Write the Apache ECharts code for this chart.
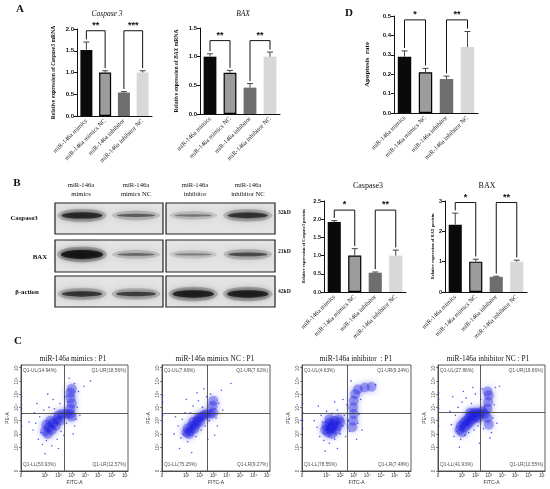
<!DOCTYPE html>
<html>
<head>
<meta charset="utf-8">
<title>miR-146a apoptosis</title>
<script src="https://cdn.jsdelivr.net/npm/echarts@6/dist/echarts.min.js"></script>
</head>
<body style="margin:0;background:#fff;">
<div id="main" style="width:550px;height:489px;"></div>
<script>
// groups and bar colours
var groups = ['miR-146a mimics', 'miR-146a mimics NC', 'miR-146a inhibitor', 'miR-146a inhibitor NC'];
var barColors = ['#0a0a0a', '#9c9c9c', '#6e6e6e', '#d8d8d8'];

// A: mRNA
var caspMrna = [1.52, 1.0, 0.54, 1.0];
var caspMrnaSd = [0.18, 0.04, 0.02, 0.04];
var baxMrna = [1.0, 0.72, 0.46, 1.0];
var baxMrnaSd = [0.05, 0.04, 0.07, 0.08];
// D: apoptosis rate
var apoptosis = [0.29, 0.21, 0.175, 0.34];
var apoptosisSd = [0.03, 0.02, 0.015, 0.08];
// B: protein quantification
var caspProt = [1.92, 1.0, 0.53, 1.0];
var caspProtSd = [0.04, 0.19, 0.02, 0.15];
var baxProt = [2.22, 1.0, 0.5, 1.0];
var baxProtSd = [0.38, 0.08, 0.02, 0.05];

// significance brackets: [bar from, bar to, height, stars]
var sigCaspMrna = [[0, 1, 1.96, '**'], [2, 3, 1.96, '***']];
var sigBaxMrna = [[0, 1, 1.28, '**'], [2, 3, 1.28, '**']];
var sigApoptosis = [[0, 1, 0.48, '*'], [2, 3, 0.48, '**']];
var sigCaspProt = [[0, 1, 2.25, '*'], [2, 3, 2.25, '**']];
var sigBaxProt = [[0, 1, 2.95, '*'], [2, 3, 2.95, '**']];

// western blot band intensity (lanes 1-4)
var blotNames = ['Caspase3', 'BAX', 'β-action'];
var blotKd = ['32kD', '21kD', '42kD'];
var bandCasp = [0.85, 0.55, 0.42, 0.8];
var bandBax = [1.0, 0.48, 0.35, 0.65];
var bandActin = [0.78, 0.72, 0.92, 0.92];

// flow cytometry, log10 units (0 drawn at -0.8)
var flowTitles = ['miR-146a mimics : P1', 'miR-146a mimics NC : P1', 'miR-146a inhibitor  : P1', 'miR-146a inhibitor NC : P1'];
var quadUL = ['14.94', '7.66', '4.63', '27.86'];
var quadUR = ['18.56', '7.62', '9.34', '19.66'];
var quadLL = ['53.93', '75.25', '78.55', '41.93'];
var quadLR = ['12.57', '9.27', '7.48', '10.55'];
var gateX = [2.4, 2.56, 2.5, 2.33];
var gateY = [3.55, 3.55, 3.55, 3.6];

var flowCore1 = [[1.0,2.2],[1.2,2.0],[1.3,2.5],[1.5,2.3],[1.6,2.8],[1.8,2.6],[1.9,3.1],[2.1,3.0],[1.1,2.7],[1.4,3.0],[2.0,3.4],[2.3,3.5],[2.6,3.5],[2.9,3.5],[2.9,3.9],[3.0,4.3],[2.9,4.7],[3.0,3.3],[2.9,5.1],[3.0,5.4]];
var flowDots1 = [[0.3,2.8],[0.5,1.6],[0.6,3.3],[0.7,2.1],[0.8,1.2],[0.9,3.8],[1.1,1.5],[1.3,4.0],[1.5,1.1],[1.7,3.9],[1.9,1.6],[2.2,2.2],[2.4,1.9],[2.6,2.8],[2.7,4.4],[3.2,2.6],[3.3,3.1],[3.4,4.0],[3.5,5.2],[3.2,5.8],[3.9,5.6],[4.4,6.0],[2.5,4.8],[2.1,4.3],[1.6,4.6],[-0.75,3.5],[-0.75,4.2],[-0.75,4.8],[-0.75,3.9],[-0.75,2.6],[0.1,2.3],[0.4,4.3],[1.0,0.5],[2.0,0.9],[3.1,2.0],[3.6,3.4],[2.8,6.2],[0.2,3.6],[-0.2,2.9],[1.2,5.0]];
var flowCore2 = [[1.0,2.1],[1.1,2.4],[1.3,2.2],[1.4,2.6],[1.5,2.9],[1.6,2.4],[1.7,2.7],[1.8,3.0],[1.9,3.2],[2.1,3.3],[2.3,3.4],[2.5,3.5],[1.2,2.0],[2.0,2.9],[2.8,3.5],[3.0,3.6],[2.95,4.1],[3.0,4.5]];
var flowDots2 = [[0.4,2.6],[0.6,1.7],[0.7,3.1],[0.8,2.0],[0.9,3.6],[1.1,1.4],[1.3,3.6],[1.5,4.1],[1.7,1.8],[1.9,4.5],[2.1,2.3],[2.2,4.0],[2.4,2.6],[2.5,4.8],[2.7,3.0],[2.8,5.0],[3.2,3.2],[3.3,2.6],[3.4,4.3],[3.6,5.3],[4.3,5.8],[1.0,4.6],[1.8,5.1],[2.3,5.4],[-0.75,3.4],[-0.75,4.4],[-0.75,2.9],[-0.75,4.9],[0.2,3.3],[0.5,0.9],[1.4,0.6],[2.6,1.6],[3.1,1.9],[0.1,2.0],[3.7,3.8]];
var flowCore3 = [[0.9,2.3],[1.0,2.6],[1.1,2.1],[1.2,2.8],[1.3,2.4],[1.4,2.0],[1.5,2.7],[1.6,3.0],[1.7,2.3],[1.8,2.6],[1.9,3.1],[1.2,3.1],[2.0,2.9],[1.4,2.5],[2.9,2.5],[2.95,3.0],[3.0,3.5],[2.95,4.0],[3.0,4.5],[3.1,5.0],[3.3,5.35],[3.8,5.5],[4.3,5.55]];
var flowDots3 = [[0.3,2.5],[0.5,1.8],[0.6,3.4],[0.7,2.9],[0.8,1.5],[1.0,3.7],[1.2,1.3],[1.4,3.5],[1.6,1.6],[1.8,3.8],[2.0,2.0],[2.2,2.6],[2.3,3.4],[2.4,1.8],[2.6,3.0],[2.5,4.2],[2.7,2.2],[3.3,2.8],[3.4,3.5],[3.5,4.6],[4.6,5.7],[2.2,4.6],[1.6,4.4],[-0.75,3.0],[-0.75,3.6],[-0.75,4.3],[-0.75,2.4],[0.1,3.0],[0.9,0.7],[1.8,0.9],[3.2,1.6],[2.8,6.0],[0.4,4.1],[3.6,2.3]];
var flowCore4 = [[0.8,2.3],[0.9,2.6],[1.0,2.1],[1.1,2.8],[1.2,2.5],[1.3,3.0],[1.4,2.7],[1.5,3.2],[1.6,2.9],[1.7,3.4],[1.8,3.1],[1.9,3.6],[2.0,3.3],[2.1,3.6],[2.3,3.5],[2.5,3.7],[2.7,3.5],[2.9,3.2],[2.9,3.9],[3.0,2.7],[2.95,4.4],[3.0,4.9],[2.9,5.2],[2.2,3.2],[1.6,3.6]];
var flowDots4 = [[0.2,2.7],[0.4,1.8],[0.5,3.4],[0.6,2.2],[0.7,4.0],[0.9,1.6],[1.0,4.4],[1.2,1.9],[1.3,4.7],[1.5,2.1],[1.7,4.3],[1.9,2.3],[2.0,5.0],[2.2,2.6],[2.4,4.6],[2.5,5.4],[2.6,2.4],[2.7,4.1],[3.2,2.1],[3.3,3.2],[3.4,4.2],[3.5,5.5],[3.8,5.6],[1.1,5.2],[1.8,5.5],[-0.75,3.2],[-0.75,3.9],[-0.75,4.6],[-0.75,2.6],[-0.75,5.1],[0.1,3.7],[0.3,4.8],[0.8,1.0],[2.3,1.3],[3.1,1.7],[3.6,2.8]];

var decadeTicks = [-0.8, 1, 2, 3, 4, 5, 6, 7];
var supDigits = ['⁰','¹','²','³','⁴','⁵','⁶','⁷'];

var serif = 'Liberation Serif';
var sans = 'Liberation Sans';
var grids = [], xAxes = [], yAxes = [], series = [], graphics = [];

function txt(x, y, s, font, align, valign) {
  graphics.push({type: 'text', x: x, y: y, silent: true,
    style: {text: s, font: font, fill: '#111', textAlign: align || 'center', align: align || 'center',
      textVerticalAlign: valign || 'middle', verticalAlign: valign || 'middle'}});
}

function barPanel(rect, vals, sd, sig, yMax, yStep, digits, yName, nameGap, nameStyle, tickFs) {
  var gi = grids.length;
  grids.push(rect);
  xAxes.push({gridIndex: gi, type: 'category', data: groups,
    axisLine: {lineStyle: {color: '#111', width: 1}},
    axisTick: {alignWithLabel: true, length: 3, lineStyle: {color: '#111'}},
    axisLabel: {rotate: 45, interval: 0, margin: 4, fontSize: 6.3, fontFamily: serif, color: '#222'}});
  yAxes.push({gridIndex: gi, type: 'value', min: 0, max: yMax, interval: yStep,
    splitLine: {show: false},
    axisLine: {show: true, lineStyle: {color: '#111'}},
    axisTick: {show: true, length: 3, lineStyle: {color: '#111'}},
    axisLabel: {fontSize: tickFs, fontWeight: 'bold', fontFamily: sans, color: '#111', margin: 3,
      formatter: function (v) { return v.toFixed(digits); }},
    name: yName, nameLocation: 'middle', nameGap: nameGap, nameRotate: 90, nameTextStyle: nameStyle});
  series.push({type: 'bar', xAxisIndex: gi, yAxisIndex: gi, barWidth: '64%', silent: true,
    data: vals.map(function (v, i) {
      return {value: v, itemStyle: {color: barColors[i], borderColor: '#000', borderWidth: i === 1 ? 1.2 : 0}};
    })});
  series.push({type: 'custom', xAxisIndex: gi, yAxisIndex: gi, silent: true, z: 3,
    data: vals.map(function (v, i) { return [i, v, sd[i]]; }),
    renderItem: function (params, api) {
      var a = api.coord([api.value(0), api.value(1)]);
      var b = api.coord([api.value(0), api.value(1) + api.value(2)]);
      return {type: 'group', children: [
        {type: 'line', shape: {x1: a[0], y1: a[1], x2: b[0], y2: b[1]}, style: {stroke: '#444', lineWidth: 1}},
        {type: 'line', shape: {x1: b[0] - 3, y1: b[1], x2: b[0] + 3, y2: b[1]}, style: {stroke: '#444', lineWidth: 1}}
      ]};
    }});
  var gap = yMax * 0.03;
  series.push({type: 'custom', xAxisIndex: gi, yAxisIndex: gi, silent: true, z: 4,
    data: sig.map(function (s) {
      return [s[0], s[1], s[2], vals[s[0]] + sd[s[0]] + gap, vals[s[1]] + sd[s[1]] + gap];
    }),
    renderItem: function (params, api) {
      var p1 = api.coord([api.value(0), api.value(2)]);
      var p2 = api.coord([api.value(1), api.value(2)]);
      var b1 = api.coord([api.value(0), api.value(3)]);
      var b2 = api.coord([api.value(1), api.value(4)]);
      return {type: 'group', children: [
        {type: 'polyline', shape: {points: [b1, p1, p2, b2]}, style: {stroke: '#111', lineWidth: 1, fill: null}},
        {type: 'text', x: (p1[0] + p2[0]) / 2, y: p1[1] - 1,
          style: {text: sig[params.dataIndex][3], font: 'bold 9px ' + sans, fill: '#111',
            textAlign: 'center', align: 'center', textVerticalAlign: 'bottom', verticalAlign: 'bottom'}}
      ]};
    }});
}

function nameStyle(fs, bold) {
  return {fontSize: fs, fontWeight: bold ? 'bold' : 'normal', fontFamily: serif, color: '#111',
    rich: {i: {fontSize: fs, fontWeight: bold ? 'bold' : 'normal', fontStyle: 'italic', fontFamily: serif, color: '#111'}}};
}

// A
barPanel({left: 77, top: 29, width: 75, height: 87}, caspMrna, caspMrnaSd, sigCaspMrna, 2, 0.5, 1,
  'Relative expression of {i|Caspase3} mRNA', 20, nameStyle(5.6, true), 6);
barPanel({left: 200, top: 28, width: 80, height: 86}, baxMrna, baxMrnaSd, sigBaxMrna, 1.5, 0.5, 1,
  'Relative expression of {i|BAX} mRNA', 20, nameStyle(5.6, true), 6);
// D
barPanel({left: 394, top: 16, width: 84, height: 97}, apoptosis, apoptosisSd, sigApoptosis, 0.5, 0.1, 1,
  'Apoptosis  rate', 23, nameStyle(7, true), 6);
// B quantification
barPanel({left: 324, top: 201, width: 82, height: 91}, caspProt, caspProtSd, sigCaspProt, 2.5, 0.5, 1,
  'Relative expression of Caspase3 protein', 18, nameStyle(4.4, true), 5.5);
barPanel({left: 445, top: 201, width: 82, height: 91}, baxProt, baxProtSd, sigBaxProt, 3, 1, 0,
  'Relative expression of BAX protein', 8, nameStyle(4.4, true), 5.5);

// B western blot boxes
var blotRowsTop = [203, 240, 276], blotRowsH = [31, 32, 31];
var blotBoxLeft = [55, 166], blotBoxW = [108, 109];
var bandRows = [bandCasp, bandBax, bandActin];
var bandY = [0.6, 0.55, 0.42];
bandRows.forEach(function (vals, r) {
  [0, 1].forEach(function (side) {
    var gi = grids.length;
    grids.push({left: blotBoxLeft[side], top: blotRowsTop[r], width: blotBoxW[side], height: blotRowsH[r],
      show: true, backgroundColor: '#e4e4e4', borderColor: '#222', borderWidth: 1.2});
    xAxes.push({gridIndex: gi, type: 'category', data: ['l', 'r'], show: false});
    yAxes.push({gridIndex: gi, type: 'value', min: 0, max: 1, show: false});
    var pts = [vals[side * 2], vals[side * 2 + 1]];
    // soft halo
    series.push({type: 'scatter', xAxisIndex: gi, yAxisIndex: gi, silent: true,
      data: pts.map(function (v, k) {
        return {value: [k, bandY[r]], symbol: 'circle', symbolSize: [46 + 4 * v, 7 + 9 * v * v],
          itemStyle: {color: 'rgba(70,70,70,' + (0.12 + 0.25 * v) + ')', shadowBlur: 8, shadowColor: 'rgba(70,70,70,0.6)'}};
      })});
    // dark core
    series.push({type: 'scatter', xAxisIndex: gi, yAxisIndex: gi, silent: true,
      data: pts.map(function (v, k) {
        return {value: [k, bandY[r]], symbol: 'circle', symbolSize: [34 + 8 * v, 2 + 7 * v * v * v],
          itemStyle: {color: 'rgba(12,12,12,' + (0.1 + 0.9 * v) + ')', shadowBlur: 5, shadowColor: 'rgba(0,0,0,' + v + ')'}};
      })});
  });
});

// C flow cytometry
var flowRects = [{left: 21, width: 107}, {left: 162, width: 108}, {left: 302, width: 109}, {left: 438, width: 107}];
var flowCore = [flowCore1, flowCore2, flowCore3, flowCore4];
var flowDots = [flowDots1, flowDots2, flowDots3, flowDots4];
function decadeLabel(v) { return v < 0 ? '0' : '10' + supDigits[Math.round(v)]; }
flowRects.forEach(function (rc, p) {
  var gi = grids.length;
  grids.push({left: rc.left, width: rc.width, top: 365, height: 106, show: true, borderColor: '#333', borderWidth: 0.8});
  var axCommon = {gridIndex: gi, type: 'value', min: -0.8, max: 7.2, splitLine: {show: false},
    axisLine: {onZero: false, lineStyle: {color: '#333', width: 0.8}},
    axisTick: {customValues: decadeTicks, length: 2, lineStyle: {color: '#333', width: 0.6}},
    nameLocation: 'middle'};
  xAxes.push(Object.assign({}, axCommon, {
    axisLabel: {customValues: decadeTicks, formatter: decadeLabel, fontSize: 4.6, color: '#333', margin: 2, fontFamily: sans},
    name: 'FITC-A', nameGap: 9, nameTextStyle: {fontSize: 5, color: '#333', fontFamily: sans}}));
  yAxes.push(Object.assign({}, axCommon, {
    axisLabel: {customValues: decadeTicks, formatter: decadeLabel, fontSize: 4.6, color: '#333', margin: 2, rotate: 90, fontFamily: sans},
    name: 'PE-A', nameGap: 11, nameTextStyle: {fontSize: 5, color: '#333', fontFamily: sans}}));
  series.push({type: 'scatter', xAxisIndex: gi, yAxisIndex: gi, silent: true, symbolSize: 10,
    itemStyle: {color: 'rgba(30,30,225,0.42)', shadowBlur: 6, shadowColor: 'rgba(30,30,225,0.8)'}, data: flowCore[p]});
  series.push({type: 'scatter', xAxisIndex: gi, yAxisIndex: gi, silent: true, symbolSize: 1.6,
    itemStyle: {color: '#2a2af0'}, data: flowDots[p],
    markLine: {silent: true, symbol: 'none', label: {show: false},
      lineStyle: {color: '#333', width: 0.8, type: 'solid'},
      data: [{xAxis: gateX[p]}, {yAxis: gateY[p]}]}});
  var qLab = {fontSize: 4.8, color: '#222', fontFamily: sans, distance: 0};
  series.push({type: 'scatter', xAxisIndex: gi, yAxisIndex: gi, silent: true, symbolSize: 0,
    data: [
      {value: [-0.65, 6.8], label: Object.assign({show: true, position: 'right', formatter: 'Q1-UL(' + quadUL[p] + '%)'}, qLab)},
      {value: [7.05, 6.8], label: Object.assign({show: true, position: 'left', formatter: 'Q1-UR(' + quadUR[p] + '%)'}, qLab)},
      {value: [-0.65, -0.35], label: Object.assign({show: true, position: 'right', formatter: 'Q1-LL(' + quadLL[p] + '%)'}, qLab)},
      {value: [7.05, -0.35], label: Object.assign({show: true, position: 'left', formatter: 'Q1-LR(' + quadLR[p] + '%)'}, qLab)}
    ]});
});

// panel letters and labels
txt(20, 9, 'A', 'bold 11px ' + serif);
txt(349, 13, 'D', 'bold 11px ' + serif);
txt(17, 183, 'B', 'bold 11px ' + serif);
txt(18, 341, 'C', 'bold 11px ' + serif);
txt(107, 14, 'Caspase 3', 'italic 7.5px ' + serif);
txt(243, 14, 'BAX', 'italic 7.5px ' + serif);
txt(368, 186, 'Caspase3', '8px ' + serif);
txt(487, 186, 'BAX', '8px ' + serif);
var laneX = [81, 136, 195, 248];
var laneSub = ['mimics', 'mimics NC', 'inhibitor', 'inhibitor NC'];
laneX.forEach(function (x, i) {
  txt(x, 185, 'miR-146a', '6.6px ' + serif);
  txt(x, 194, laneSub[i], '6.6px ' + serif);
});
var rowLabelX = [24, 40, 27], rowLabelY = [218, 257, 292], kdY = [213, 252, 292];
blotNames.forEach(function (n, r) {
  txt(rowLabelX[r], rowLabelY[r], n, 'bold 6.8px ' + serif);
  txt(278, kdY[r], blotKd[r], 'bold 5.6px ' + serif, 'left');
});
var flowTitleX = [73, 215, 356, 488];
flowTitles.forEach(function (t, i) { txt(flowTitleX[i], 359, t, '7.4px ' + serif); });

var chart = echarts.init(document.getElementById('main'));
chart.setOption({
  animation: false,
  backgroundColor: '#fff',
  grid: grids,
  xAxis: xAxes,
  yAxis: yAxes,
  series: series,
  graphic: graphics
});
</script>
</body>
</html>
